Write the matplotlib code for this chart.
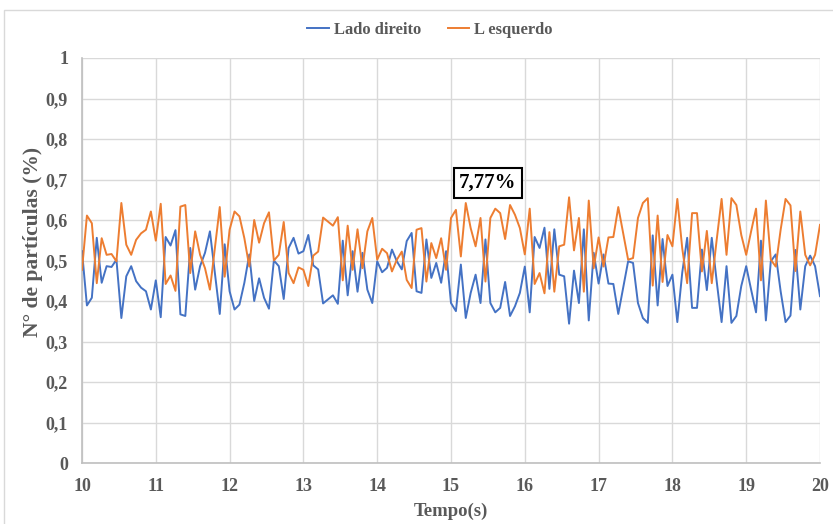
import numpy as np
import matplotlib
matplotlib.use("Agg")
import matplotlib.pyplot as plt
from matplotlib.patches import Rectangle

# Sampling instants (s): 15 samples per second from 10 s to 20 s
tempo = np.linspace(10, 20, 151)

# Share of particles on each side (fraction)
lado_direito = [
    0.523, 0.389, 0.408, 0.556, 0.445, 0.486, 0.484, 0.502, 0.358, 0.461,
    0.486, 0.449, 0.433, 0.424, 0.379, 0.451, 0.360, 0.558, 0.537, 0.575,
    0.367, 0.363, 0.531, 0.428, 0.486, 0.519, 0.572, 0.470, 0.368, 0.540,
    0.424, 0.379, 0.391, 0.445, 0.515, 0.400, 0.456, 0.408, 0.381, 0.500,
    0.486, 0.405, 0.531, 0.556, 0.517, 0.523, 0.563, 0.488, 0.478, 0.394,
    0.404, 0.414, 0.393, 0.549, 0.414, 0.523, 0.423, 0.519, 0.428, 0.395,
    0.498, 0.471, 0.482, 0.527, 0.498, 0.478, 0.548, 0.568, 0.424, 0.420,
    0.552, 0.457, 0.494, 0.445, 0.523, 0.395, 0.375, 0.490, 0.358, 0.420,
    0.465, 0.395, 0.552, 0.395, 0.372, 0.383, 0.447, 0.363, 0.387, 0.420,
    0.485, 0.372, 0.558, 0.531, 0.581, 0.430, 0.577, 0.465, 0.461, 0.344,
    0.475, 0.395, 0.577, 0.352, 0.519, 0.443, 0.515, 0.443, 0.442, 0.368,
    0.433, 0.498, 0.494, 0.395, 0.358, 0.346, 0.562, 0.389, 0.553, 0.437,
    0.465, 0.348, 0.470, 0.556, 0.383, 0.383, 0.527, 0.427, 0.556, 0.449,
    0.348, 0.486, 0.346, 0.363, 0.437, 0.486, 0.428, 0.372, 0.549, 0.352,
    0.498, 0.515, 0.424, 0.348, 0.364, 0.526, 0.379, 0.486, 0.512, 0.486,
    0.412,
]

l_esquerdo = [
    0.477, 0.611, 0.592, 0.444, 0.555, 0.514, 0.516, 0.498, 0.642, 0.539,
    0.514, 0.551, 0.567, 0.576, 0.621, 0.549, 0.640, 0.442, 0.463, 0.425,
    0.633, 0.637, 0.469, 0.572, 0.514, 0.481, 0.428, 0.530, 0.632, 0.460,
    0.576, 0.621, 0.609, 0.555, 0.485, 0.600, 0.544, 0.592, 0.619, 0.500,
    0.514, 0.595, 0.469, 0.444, 0.483, 0.477, 0.437, 0.512, 0.522, 0.606,
    0.596, 0.586, 0.607, 0.451, 0.586, 0.477, 0.577, 0.481, 0.572, 0.605,
    0.502, 0.529, 0.518, 0.473, 0.502, 0.522, 0.452, 0.432, 0.576, 0.580,
    0.448, 0.543, 0.506, 0.555, 0.477, 0.605, 0.625, 0.510, 0.642, 0.580,
    0.535, 0.605, 0.448, 0.605, 0.628, 0.617, 0.553, 0.637, 0.613, 0.580,
    0.515, 0.628, 0.442, 0.469, 0.419, 0.570, 0.423, 0.535, 0.539, 0.656,
    0.525, 0.605, 0.423, 0.648, 0.481, 0.557, 0.485, 0.557, 0.558, 0.632,
    0.567, 0.502, 0.506, 0.605, 0.642, 0.654, 0.438, 0.611, 0.447, 0.563,
    0.535, 0.652, 0.530, 0.444, 0.617, 0.617, 0.473, 0.573, 0.444, 0.551,
    0.652, 0.514, 0.654, 0.637, 0.563, 0.514, 0.572, 0.628, 0.451, 0.648,
    0.502, 0.485, 0.576, 0.652, 0.636, 0.474, 0.621, 0.514, 0.488, 0.514,
    0.588,
]

series_labels = ["Lado direito", "L esquerdo"]
x_ticks = list(range(10, 21))
y_ticks = [0, 0.1, 0.2, 0.3, 0.4, 0.5, 0.6, 0.7, 0.8, 0.9, 1.0]
y_tick_labels = ["0", "0,1", "0,2", "0,3", "0,4", "0,5", "0,6", "0,7", "0,8", "0,9", "1"]
annotation_text = "7,77%"
annotation_pos = (15.5, 0.692)

plt.rcParams["font.family"] = ["Liberation Serif", "DejaVu Serif"]
plt.rcParams["font.weight"] = "bold"

fig = plt.figure(figsize=(8.33, 5.24), dpi=100)
ax = fig.add_axes([82 / 833, 1 - 463 / 524, (820 - 82) / 833, (463 - 58) / 524])

blue = "#4472C4"
orange = "#ED7D31"
grid_c = "#D9D9D9"
text_c = "#595959"

ax.plot(tempo, lado_direito, color=blue, lw=1.4, label=series_labels[0], zorder=3)
ax.plot(tempo, l_esquerdo, color=orange, lw=1.4, label=series_labels[1], zorder=3)

ax.set_xlim(10, 20)
ax.set_ylim(0, 1)
ax.set_xticks(x_ticks)
ax.set_xticklabels([str(t) for t in x_ticks])
ax.set_yticks(y_ticks)
ax.set_yticklabels(y_tick_labels)
ax.grid(True, color=grid_c, lw=1.0, zorder=0)
ax.tick_params(length=0, labelsize=13, colors=text_c)
ax.tick_params(axis="y", pad=10)
ax.tick_params(axis="x", pad=11)
for lbl in ax.get_xticklabels() + ax.get_yticklabels():
    lbl.set_fontweight("bold")

for s in ("top", "right"):
    ax.spines[s].set_visible(False)
for s in ("left", "bottom"):
    ax.spines[s].set_color("#BFBFBF")
    ax.spines[s].set_linewidth(1.2)

ax.set_xlabel("Tempo(s)", fontsize=13.5, fontweight="bold", color=text_c, labelpad=5)
ax.set_ylabel("N° de partículas (%)", fontsize=15.5, fontweight="bold", color=text_c)
ax.yaxis.set_label_coords(-0.053, 0.546)

ax.text(annotation_pos[0], annotation_pos[1], annotation_text, ha="center", va="center",
        fontsize=15, fontweight="bold", color="black", zorder=5,
        bbox=dict(boxstyle="square,pad=0.25", fc="white", ec="black", lw=1.5))

leg = fig.legend(loc="center", bbox_to_anchor=(430 / 833, 1 - 30 / 524), ncol=2,
                 frameon=False, fontsize=12, handlelength=1.3, columnspacing=1.6,
                 handletextpad=0.3)
for t in leg.get_texts():
    t.set_color(text_c)
    t.set_fontweight("bold")

# light frame around the chart area
fig.patches.append(Rectangle((4 / 833, -0.05), 1.1, 1 - 10 / 524 + 0.05,
                             transform=fig.transFigure, fill=False,
                             ec="#D9D9D9", lw=1.0, zorder=0))

fig.savefig("out.png", dpi=100, facecolor="white")
